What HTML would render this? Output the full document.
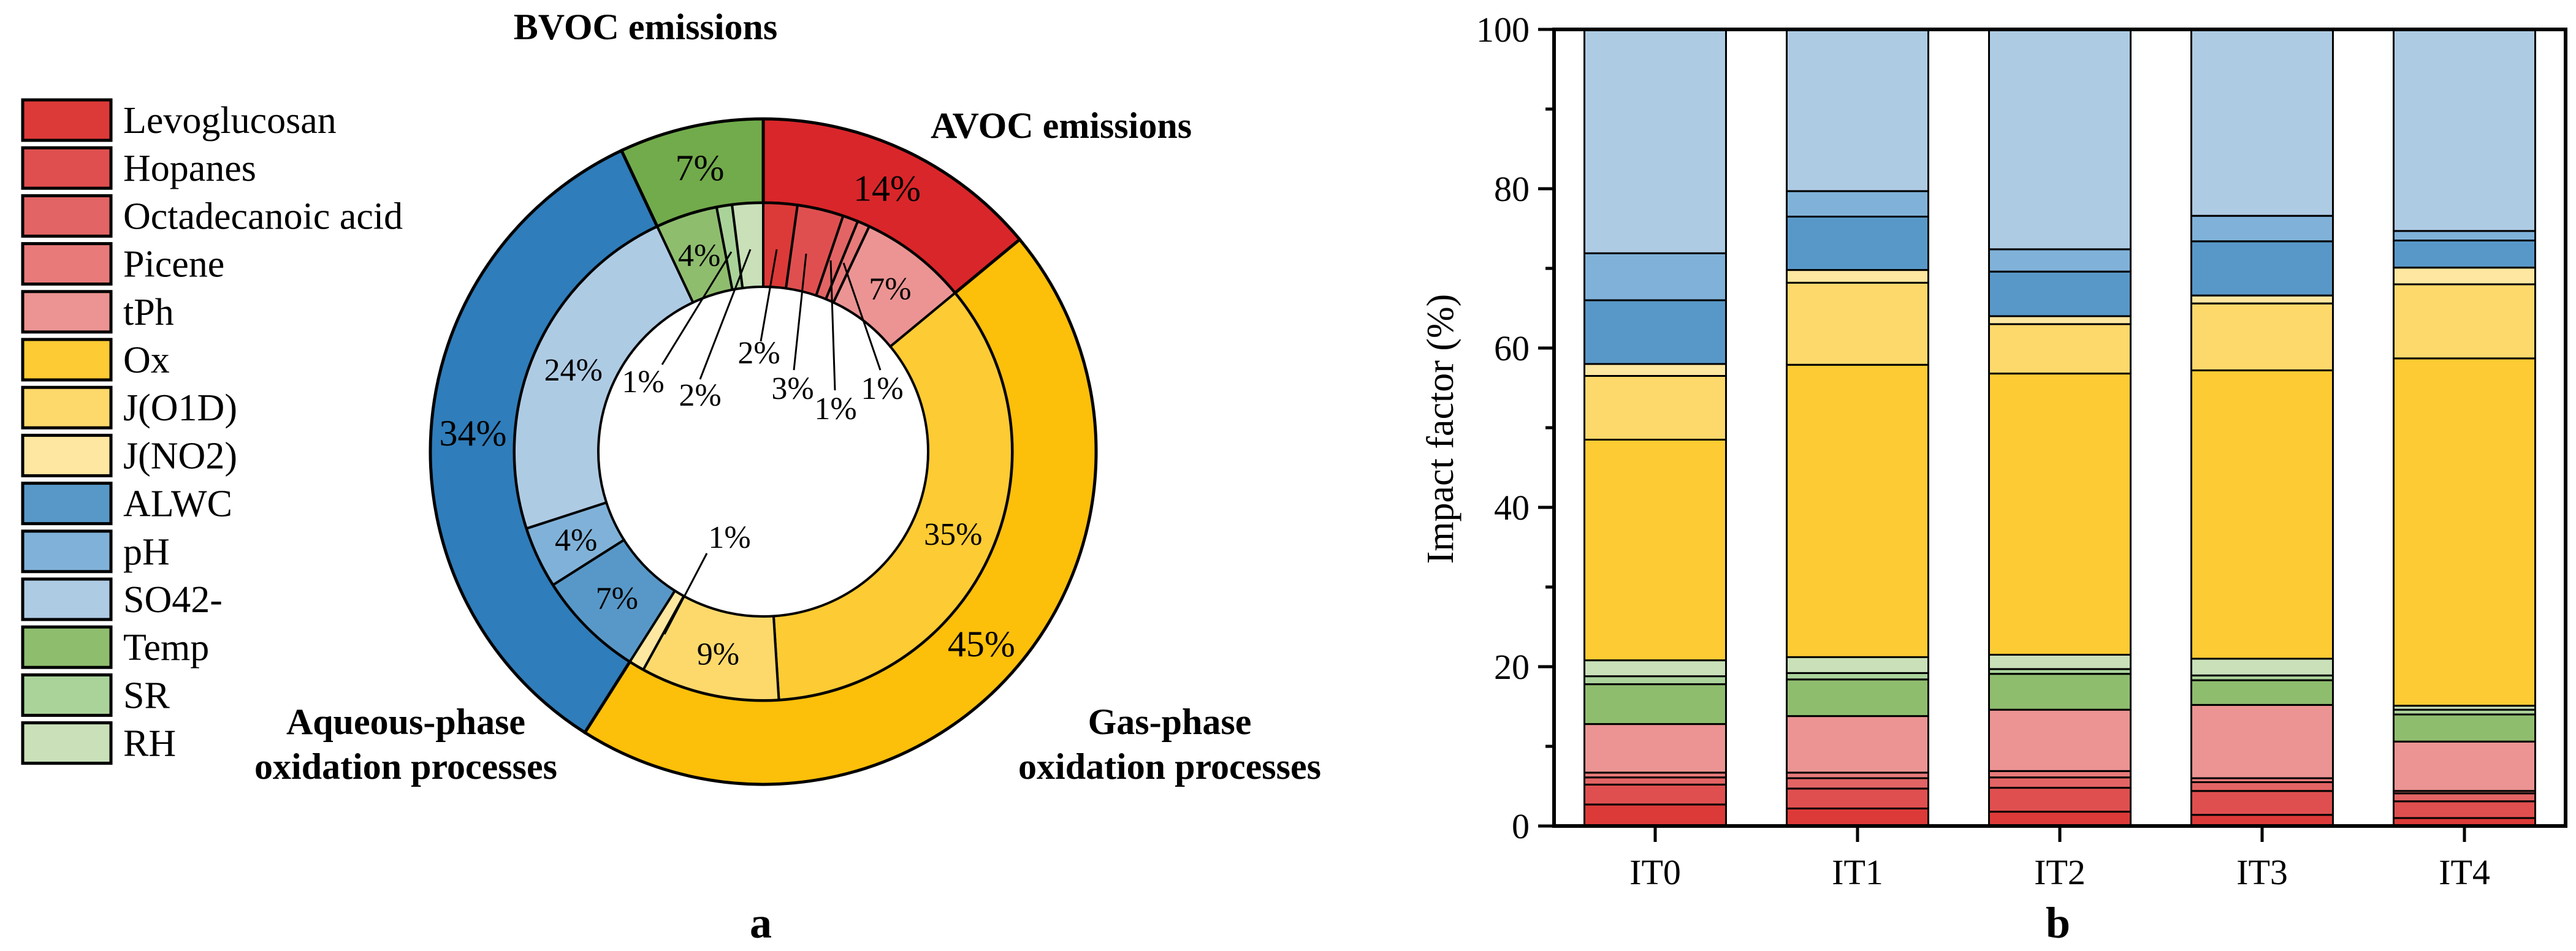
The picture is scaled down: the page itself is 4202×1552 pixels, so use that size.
<!DOCTYPE html>
<html><head><meta charset="utf-8">
<style>
html,body{margin:0;padding:0;background:#fff;}
svg{display:block;font-family:"Liberation Serif",serif;}
</style></head>
<body>
<svg id="fig" width="4202" height="1552" viewBox="0 0 4202 1552" xmlns="http://www.w3.org/2000/svg">
<g id="legend"></g>
<g id="donut"></g>
<g id="bars"></g>
</svg>
<script>
const factorNames = ["Levoglucosan","Hopanes","Octadecanoic acid","Picene","tPh","Ox","J(O1D)","J(NO2)","ALWC","pH","SO42-","Temp","SR","RH"];
const factorColors = ["#dc3a38","#e04f4f","#e36464","#e87a7a","#eb9493","#fdcb33","#fdd96b","#fee7a0","#5898c8","#80b2d9","#aecbe4","#8fbd6e","#aad39a","#c9e0b9"];
// donut inner ring values (%)
const innerValues = [2.2,3.0,1.0,0.8,7.0,35,9,1,7,4,23,4,1,2];
const innerLabels = ["2%","3%","1%","1%","7%","35%","9%","1%","7%","4%","24%","4%","1%","2%"];
const groupNames = ["AVOC emissions","Gas-phase oxidation processes","Aqueous-phase oxidation processes","BVOC emissions"];
const groupColors = ["#d9262a","#fcbf0a","#2f7dba","#72ab4b"];
const groupSizes = [5,3,3,3];
const outerLabels = ["14%","45%","34%","7%"];
// bar chart
const categories = ["IT0","IT1","IT2","IT3","IT4"];
const stackOrder = [0,1,2,3,4,11,12,13,5,6,7,8,9,10];
const barValues = [
 [2.7,2.5,0.9,0.6,6.1,5.0,1.0,2.0,27.7,8.0,1.5,8.0,5.9,28.2],
 [2.2,2.5,1.3,0.7,7.1,4.6,0.8,2.0,36.7,10.3,1.6,6.7,3.2,20.3],
 [1.8,3.0,1.3,0.8,7.7,4.5,0.6,1.8,35.3,6.2,1.0,5.6,2.8,27.6],
 [1.4,3.0,1.1,0.5,9.2,3.1,0.6,2.1,36.2,8.4,1.0,6.8,3.2,23.4],
 [1.0,2.1,1.0,0.3,6.2,3.4,0.6,0.5,43.6,9.3,2.1,3.4,1.2,25.3]
];
const yTicks = [0,20,40,60,80,100];

const NS="http://www.w3.org/2000/svg";
function mk(parent,tag,attrs,text){const e=document.createElementNS(NS,tag);for(const k in attrs)e.setAttribute(k,attrs[k]);if(text!==undefined)e.textContent=text;parent.appendChild(e);return e;}

// legend
const lg=document.getElementById('legend');
factorNames.forEach((n,i)=>{
  const y=163+i*78.2;
  const r=mk(lg,'rect',{x:37,y:y,width:144,height:66,fill:factorColors[i],stroke:'#000','stroke-width':5});
  
  
  const t=mk(lg,'text',{x:201,y:y+54,'font-size':62},n);
  
  
});

// donut
const dg=document.getElementById('donut');
const cx=1245,cy=737,R0=543,R1=406,R2=269;
function pt(r,f){const a=f*2*Math.PI;return [cx+r*Math.sin(a),cy-r*Math.cos(a)];}
function arc(r1,r2,f0,f1){
  const large=(f1-f0)>0.5?1:0;
  const a=pt(r2,f0),b=pt(r2,f1),c=pt(r1,f1),d=pt(r1,f0);
  return `M${a[0]},${a[1]}A${r2},${r2} 0 ${large} 1 ${b[0]},${b[1]}L${c[0]},${c[1]}A${r1},${r1} 0 ${large} 0 ${d[0]},${d[1]}Z`;
}
const total=innerValues.reduce((s,v)=>s+v,0);
let acc=0,idx=0;
groupNames.forEach((g,gi)=>{
  let gs=0;for(let k=0;k<groupSizes[gi];k++)gs+=innerValues[idx+k];
  const f0=acc/total,f1=(acc+gs)/total;
  const p=mk(dg,'path',{d:arc(R1,R0,f0,f1),fill:groupColors[gi],stroke:'#000','stroke-width':5});
  
  
  const lp=pt((R0+R1)/2,(f0+f1)/2);
  const t=mk(dg,'text',{x:lp[0],y:lp[1]+20,'font-size':60,'text-anchor':'middle'},outerLabels[gi]);
  
  
  let a2=acc;
  for(let k=0;k<groupSizes[gi];k++){
    const v=innerValues[idx];
    const q=mk(dg,'path',{d:arc(R2,R1,a2/total,(a2+v)/total),fill:factorColors[idx],stroke:'#000','stroke-width':4});
    
    
    a2+=v;idx++;
  }
  acc+=gs;
});
const callout={0:[1238,575,1241,557,1267,407],1:[1293,633,1295,604,1315,414],2:[1363,666,1362,637,1355,425],3:[1439,633,1436,604,1376,429],7:[1190,876,1153,903,1084,1035],12:[1049,622,1080,595,1193,411],13:[1142,644,1142,619,1224,407]};
acc=0;
innerValues.forEach((v,i)=>{
  const fm=(acc+v/2)/total;acc+=v;
  let x,y;
  if(callout[i]){
    const c=callout[i];x=c[0];y=c[1];
    const l=mk(dg,'line',{x1:c[2],y1:c[3],x2:c[4],y2:c[5],stroke:'#000','stroke-width':3});
    
    
  } else {const p=pt((R1+R2)/2,fm);x=p[0];y=p[1];}
  const t=mk(dg,'text',{x:x,y:y+18,'font-size':52,'text-anchor':'middle'},innerLabels[i]);
  
  
});
function title(lines,x,y,name){
  const t=mk(dg,'text',{x:x,y:y,'font-size':60,'font-weight':'bold','text-anchor':'middle'});
  
  
  lines.forEach((s,i)=>mk(t,'tspan',{x:x,dy:i?73:0},s));
}
title(["BVOC emissions"],1053,64,'bvoc-title');
title(["AVOC emissions"],1731,225,'avoc-title');
title(["Aqueous-phase","oxidation processes"],662,1198,'aqueous-title');
title(["Gas-phase","oxidation processes"],1908,1198,'gas-title');
const pa=mk(dg,'text',{x:1241,y:1530,'font-size':72,'font-weight':'bold','text-anchor':'middle'},'a');



// bars
const bg=document.getElementById('bars');
const L=2535,Rt=4185,T=48,B=1348;
const band=(Rt-L)/categories.length,bw=band*0.7;
const ys=v=>B-(v/100)*(B-T);
const xc=i=>L+band*(i+0.5);
barValues.forEach((vals,ci)=>{
  let c=0;
  vals.forEach((v,si)=>{
    const r=mk(bg,'rect',{x:xc(ci)-bw/2,y:ys(c+v),width:bw,height:ys(c)-ys(c+v),fill:factorColors[stackOrder[si]],stroke:'#000','stroke-width':3});
    
    
    c+=v;
  });
  const tk=mk(bg,'line',{x1:xc(ci),y1:B,x2:xc(ci),y2:B+26,stroke:'#000','stroke-width':5});
  
  
  const tl=mk(bg,'text',{x:xc(ci),y:B+95,'font-size':58,'text-anchor':'middle'},categories[ci]);
  
  
});
const fr=mk(bg,'rect',{x:L,y:T,width:Rt-L,height:B-T,fill:'none',stroke:'#000','stroke-width':6});


for(let v=0;v<=100;v+=10){
  const major=yTicks.includes(v);
  const l=mk(bg,'line',{x1:L-(major?26:14),y1:ys(v),x2:L,y2:ys(v),stroke:'#000','stroke-width':5});
  
  
}
yTicks.forEach(v=>{
  const t=mk(bg,'text',{x:L-40,y:ys(v)+20,'font-size':58,'text-anchor':'end'},String(v));
  
  
});
const yt=mk(bg,'text',{x:2370,y:700,'font-size':62,'text-anchor':'middle',transform:'rotate(-90 2370 700)'},'Impact factor (%)');


const pb=mk(bg,'text',{x:3357,y:1530,'font-size':72,'font-weight':'bold','text-anchor':'middle'},'b');


</script>
</body></html>
